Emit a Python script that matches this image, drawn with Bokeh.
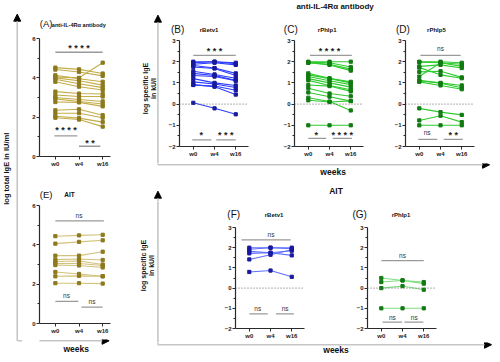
import numpy as np
from bokeh.plotting import figure
from bokeh.layouts import row, column
from bokeh.models import Range1d, FixedTicker, Arrow, NormalHead, Span
from bokeh.core.properties import value
from bokeh.embed import file_html
from bokeh.resources import INLINE

# ---------------- data ----------------
weeks = ["w0", "w4", "w16"]
week_pos = [0, 1, 2]

# (A) anti-IL-4Ra antibody, log total IgE
A_w0 = [4.52, 4.42, 4.05, 4.13, 4.00, 3.93, 3.80, 3.30, 3.13, 3.00, 2.93, 2.77, 2.35, 2.20, 2.05, 1.97]
A_w4 = [4.43, 4.30, 4.00, 3.95, 3.85, 3.70, 3.55, 3.20, 3.05, 2.90, 2.80, 2.75, 2.40, 2.20, 1.95, 1.88]
A_w16 = [4.22, 4.10, 4.77, 3.80, 3.63, 3.50, 3.38, 3.18, 3.05, 2.80, 2.67, 2.55, 2.10, 1.97, 1.75, 1.52]
# (B) rBetv1
B_w0 = [2.00, 1.95, 1.88, 1.82, 1.75, 1.55, 1.45, 1.35, 1.20, 1.05, 0.90, 0.92, 0.06]
B_w4 = [2.00, 2.00, 1.95, 1.70, 1.68, 1.40, 1.35, 1.30, 1.00, 0.95, 0.85, 0.82, -0.20]
B_w16 = [1.95, 1.90, 1.85, 1.45, 1.35, 1.22, 1.12, 1.10, 0.88, 0.78, 0.65, 0.45, -0.48]
# (C) rPhlp1
C_w0 = [2.00, 1.97, 1.95, 1.95, 1.45, 1.38, 1.30, 1.20, 1.12, 0.90, 0.75, 0.55, 0.30, 0.18, -1.00]
C_w4 = [2.00, 1.95, 1.88, 1.85, 1.22, 1.20, 1.10, 1.00, 0.88, 0.85, 0.50, 0.35, 0.12, 0.10, -1.00]
C_w16 = [2.00, 1.75, 1.65, 1.58, 1.05, 1.00, 0.92, 0.80, 0.68, 0.60, 0.37, 0.14, -0.30, 0.15, -1.00]
# (D) rPhlp5
D_w0 = [2.00, 1.98, 1.30, 1.78, 1.72, 1.52, 1.12, 1.10, 1.05, -0.20, -0.77, -1.00]
D_w4 = [2.00, 1.95, 1.95, 1.85, 1.38, 1.55, 1.00, 0.98, 0.88, -0.38, -0.55, -1.00]
D_w16 = [1.95, 1.88, 1.78, 1.70, 1.22, 1.26, 0.88, 0.77, 0.70, -0.51, -0.85, -1.00]
# (E) AIT, log total IgE
E_w0 = [4.44, 4.06, 3.45, 3.25, 3.15, 3.05, 2.97, 2.62, 2.40, 2.05]
E_w4 = [4.48, 4.15, 3.45, 3.28, 3.18, 3.05, 2.95, 2.52, 2.42, 2.05]
E_w16 = [4.51, 4.23, 3.65, 3.23, 3.00, 2.95, 2.85, 2.40, 2.40, 2.03]
# (F) AIT rBetv1
F_w0 = [2.00, 1.92, 1.82, 1.72, 1.42, 0.80]
F_w4 = [2.00, 2.00, 1.75, 1.75, 1.65, 0.87]
F_w16 = [2.00, 1.95, 1.85, 1.62, 1.90, 0.56]
# (G) AIT rPhlp1
G_w0 = [0.50, 0.30, 0.00, -1.00]
G_w4 = [0.38, 0.38, 0.10, -1.00]
G_w16 = [0.22, 0.30, -0.08, -1.00]

# significance annotations: bar from x0 to x1 at level y, label at (tx, ty)
A_sig_x0 = [0.0, -0.04, 1.0]; A_sig_x1 = [2.0, 0.93, 1.9]; A_sig_y = [5.3, 1.05, 0.52]
A_sig_tx = [1.0, 0.45, 1.46]; A_sig_ty = [5.62, 1.45, 0.82]; A_sig_txt = ["* * * *", "* * * *", "* *"]
B_sig_x0 = [0.0, -0.05, 1.08]; B_sig_x1 = [2.0, 0.85, 2.0]; B_sig_y = [2.3, -1.69, -1.69]
B_sig_tx = [1.0, 0.37, 1.53]; B_sig_ty = [2.6, -1.35, -1.35]; B_sig_txt = ["* * *", "*", "* * *"]
C_sig_x0 = [0.08, 0.0, 1.15]; C_sig_x1 = [2.05, 0.84, 2.05]; C_sig_y = [2.3, -1.62, -1.62]
C_sig_tx = [1.0, 0.37, 1.6]; C_sig_ty = [2.6, -1.32, -1.32]; C_sig_txt = ["* * * *", "*", "* * * *"]
D_sig_x0 = [0.05, -0.05, 1.15]; D_sig_x1 = [1.95, 0.85, 2.05]; D_sig_y = [2.3, -1.66, -1.66]
D_sig_tx = [1.0, 0.37, 1.6]; D_sig_ty = [2.62, -1.32, -1.32]; D_sig_txt = ["ns", "ns", "* *"]
E_sig_x0 = [0.0, 0.0, 1.1]; E_sig_x1 = [2.05, 0.97, 2.0]; E_sig_y = [5.22, 1.13, 0.83]
E_sig_tx = [1.0, 0.47, 1.55]; E_sig_ty = [5.5, 1.41, 1.13]; E_sig_txt = ["ns", "ns", "ns"]
F_sig_x0 = [-0.37, 0.0, 1.26]; F_sig_x1 = [1.95, 0.87, 2.1]; F_sig_y = [2.39, -1.28, -1.28]
F_sig_tx = [1.02, 0.4, 1.69]; F_sig_ty = [2.64, -1.01, -1.01]; F_sig_txt = ["ns", "ns", "ns"]
G_sig_x0 = [0.0, 0.06, 1.09]; G_sig_x1 = [2.0, 0.98, 1.98]; G_sig_y = [1.36, -1.68, -1.68]
G_sig_tx = [1.0, 0.52, 1.55]; G_sig_ty = [1.63, -1.44, -1.44]; G_sig_txt = ["ns", "ns", "ns"]

# ---------------- helpers ----------------
KX = 492 / 500.0
KY = 354 / 362.0
FONT = "Liberation Sans"
AXC = "#2a2a2a"
FRAME_C = "#c6c6c6"


def deco(x0, x1, y0, y1):
    """Decoration figure covering layout pixels [x0,x1]x[y0,y1]; data units = reference pixels (y negated)."""
    p = figure(width=x1 - x0, height=y1 - y0,
               x_range=Range1d(x0 / KX, x1 / KX), y_range=Range1d(-y1 / KY, -y0 / KY),
               output_backend="svg", toolbar_location=None,
               x_axis_location=None, y_axis_location=None, min_border=0)
    p.outline_line_color = None
    p.grid.visible = False
    p.xgrid.visible = False
    p.ygrid.visible = False
    p.background_fill_color = "white"
    p.border_fill_color = "white"
    return p


def dtext(p, rx, ry, text, size, bold=False, angle=0.0, color="#111111"):
    p.text(x=[rx], y=[-ry], text=[text], text_align="center", text_baseline="middle",
           text_font=value(FONT), text_font_size=size,
           text_font_style="bold" if bold else "normal", text_color=color, angle=angle)


def dline(p, x0, y0, x1, y1):
    p.segment(x0=[x0], y0=[-y0], x1=[x1], y1=[-y1], line_color=FRAME_C, line_width=1.6)


def darrow(p, x0, y0, x1, y1):
    p.add_layout(Arrow(x_start=x0, y_start=-y0, x_end=x1, y_end=-y1, start=None,
                       end=NormalHead(size=7, fill_color="black", line_color="black", line_width=1),
                       line_color=FRAME_C, line_width=1.6))


def panel(x0, x1, y0, y1, frame_ref, xr, yr, yticks, yminor):
    fl, ft, fr, fb = frame_ref
    bl = int(round(fl * KX)) - x0
    br = x1 - int(round(fr * KX))
    bt = int(round(ft * KY)) - y0
    bb = y1 - int(round(fb * KY))
    p = figure(width=x1 - x0, height=y1 - y0, x_range=Range1d(*xr), y_range=Range1d(*yr),
               output_backend="svg", toolbar_location=None,
               min_border_left=bl, min_border_right=br, min_border_top=bt, min_border_bottom=bb)
    p.outline_line_color = None
    p.xgrid.visible = False
    p.ygrid.visible = False
    p.background_fill_color = "white"
    p.border_fill_color = "white"
    p.xaxis.ticker = FixedTicker(ticks=week_pos, minor_ticks=[])
    p.xaxis.major_label_overrides = {k: v for k, v in zip(week_pos, weeks)}
    p.yaxis.ticker = FixedTicker(ticks=yticks, minor_ticks=yminor)
    for ax in (p.xaxis[0], p.yaxis[0]):
        ax.axis_line_color = AXC
        ax.axis_line_width = 1.2
        ax.major_tick_line_color = AXC
        ax.minor_tick_line_color = AXC
        ax.major_tick_out = 3
        ax.major_tick_in = 0
        ax.minor_tick_out = 2
        ax.minor_tick_in = 0
        ax.major_label_text_font = FONT
        ax.major_label_text_font_size = "6px"
        ax.major_label_text_font_style = "bold"
        ax.major_label_text_color = "#222222"
        ax.major_label_standoff = 1
    return p


def draw_series(p, w0, w4, w16, line_color, marker_color):
    xs = [week_pos for _ in w0]
    ys = [[a, b, c] for a, b, c in zip(w0, w4, w16)]
    p.multi_line(xs, ys, line_color=line_color, line_width=1.1)
    p.scatter(np.repeat([week_pos], len(w0), axis=0).ravel(), np.array(ys).ravel(),
              marker="square", size=3.2, color=marker_color)


def draw_sig(p, x0, x1, y, tx, ty, txt):
    p.segment(x0=x0, y0=y, x1=x1, y1=y, line_color="#9a9a9a", line_width=1.3)
    for X_, Y_, T_ in zip(tx, ty, txt):
        if "*" in T_:
            p.text(x=[X_], y=[Y_], text=[T_], text_align="center", text_baseline="middle",
                   text_font=value(FONT), text_font_size="9px", text_font_style="bold",
                   text_color="#222222", y_offset=2.5)
        else:
            p.text(x=[X_], y=[Y_], text=[T_], text_align="center", text_baseline="middle",
                   text_font=value(FONT), text_font_size="6.5px", text_color="#333333")


def zero_line(p):
    p.add_layout(Span(location=0, dimension="width", line_color="#666666",
                      line_width=1, line_dash="1 2"))


GOLD_L, GOLD_M = "#c4ad4a", "#8d7a1f"
GOLD_L2 = "#d3c27c"
BLUE_L, BLUE_M = "#2b3cff", "#1a1a9e"
BLUE_L2 = "#5f70ff"
GREEN_L, GREEN_M = "#2fcb2f", "#127a12"
GREEN_L2 = "#80dd80"

XR_A = (-0.67, 2.33)
XR_B = (-0.65, 2.6)
YT_A, YM_A = [0, 2, 4, 6], [1, 3, 5]
YT_B, YM_B = [-2, -1, 0, 1, 2, 3], [-1.5, -0.5, 0.5, 1.5, 2.5]

# ---------------- left strip ----------------
strip = deco(0, 22, 0, 354)
dtext(strip, 6, 172, "log total IgE in IU/ml", "7.5px", bold=True, angle=np.pi / 2)
darrow(strip, 17, 348, 17, 14)
dline(strip, 17, 348, 24, 348)

# ---------------- left column: A and E ----------------
titleA = deco(22, 128, 0, 32)
dtext(titleA, 32.5, 24, "(A)", "9.5px")
dtext(titleA, 82, 25, "anti-IL-4R\u03b1 antibody", "5.6px", bold=True)

pA = panel(22, 128, 32, 177, (40, 39.3, 112, 159.3), XR_A, (0, 6), YT_A, YM_A)
draw_sig(pA, A_sig_x0, A_sig_x1, A_sig_y, A_sig_tx, A_sig_ty, A_sig_txt)
draw_series(pA, A_w0, A_w4, A_w16, GOLD_L, GOLD_M)

titleE = deco(22, 128, 177, 200)
dtext(titleE, 32.5, 198, "(E)", "9.5px")
dtext(titleE, 68, 198, "AIT", "6.5px", bold=True)

pE = panel(22, 128, 200, 339, (40, 209.3, 112, 330), XR_A, (0, 6), YT_A, YM_A)
draw_sig(pE, E_sig_x0, E_sig_x1, E_sig_y, E_sig_tx, E_sig_ty, E_sig_txt)
draw_series(pE, E_w0, E_w4, E_w16, GOLD_L2, GOLD_M)

bottomE = deco(22, 128, 339, 354)
darrow(bottomE, 18, 348, 128, 348)
dtext(bottomE, 78, 356, "weeks", "8.5px", bold=True)

left_col = column(titleA, pA, titleE, pE, bottomE)

# ---------------- right top: B, C, D ----------------
header = deco(128, 492, 0, 14)
dtext(header, 340, 6.5, "anti-IL-4R\u03b1 antibody", "8px", bold=True)

decoRTL = deco(128, 164, 14, 163)
dtext(decoRTL, 147.5, 90, "log specific IgE", "7px", bold=True, angle=np.pi / 2)
dtext(decoRTL, 155, 90, "in kU/l", "7px", bold=True, angle=np.pi / 2)
darrow(decoRTL, 160, 172, 160, 15)

titlesRT = deco(164, 492, 14, 35)
dtext(titlesRT, 180, 30, "(B)", "10px")
dtext(titlesRT, 212, 30, "rBetv1", "6px", bold=True)
dtext(titlesRT, 295, 30, "(C)", "10px")
dtext(titlesRT, 332, 30, "rPhlp1", "6px", bold=True)
dtext(titlesRT, 409, 30, "(D)", "10px")
dtext(titlesRT, 443, 30, "rPhlp5", "6px", bold=True)

pB = panel(164, 258, 35, 163, (182, 40.7, 252, 149), XR_B, (-2, 3), YT_B, YM_B)
zero_line(pB)
draw_sig(pB, B_sig_x0, B_sig_x1, B_sig_y, B_sig_tx, B_sig_ty, B_sig_txt)
draw_series(pB, B_w0, B_w4, B_w16, BLUE_L, BLUE_M)

pC = panel(258, 379, 35, 163, (299, 40.7, 369, 149), XR_B, (-2, 3), YT_B, YM_B)
zero_line(pC)
draw_sig(pC, C_sig_x0, C_sig_x1, C_sig_y, C_sig_tx, C_sig_ty, C_sig_txt)
draw_series(pC, C_w0, C_w4, C_w16, GREEN_L, GREEN_M)

pD = panel(379, 492, 35, 163, (412, 40.7, 482, 149), XR_B, (-2, 3), YT_B, YM_B)
zero_line(pD)
draw_sig(pD, D_sig_x0, D_sig_x1, D_sig_y, D_sig_tx, D_sig_ty, D_sig_txt)
draw_series(pD, D_w0, D_w4, D_w16, GREEN_L, GREEN_M)

bottomRT = deco(128, 492, 163, 177)
dline(bottomRT, 160, 160, 160, 168)
darrow(bottomRT, 160, 168, 497, 168)
dtext(bottomRT, 338, 175, "weeks", "8.5px", bold=True)

right_top = column(header,
                   row(decoRTL, column(titlesRT, row(pB, pC, pD))),
                   bottomRT)

# ---------------- right bottom: F, G ----------------
hdrRB = deco(128, 492, 177, 201)
dtext(hdrRB, 341, 195, "AIT", "8.5px", bold=True)
darrow(hdrRB, 160, 215, 160, 195)

decoRBL = deco(128, 164, 201, 342)
dtext(decoRBL, 145.5, 271, "log specific IgE", "7px", bold=True, angle=np.pi / 2)
dtext(decoRBL, 153, 271, "in kU/l", "7px", bold=True, angle=np.pi / 2)
dline(decoRBL, 160, 200, 160, 360)

titlesRB = deco(164, 492, 201, 222)
dtext(titlesRB, 237, 219, "(F)", "10px")
dtext(titlesRB, 278, 219, "rBetv1", "6px", bold=True)
dtext(titlesRB, 365, 219, "(G)", "10px")
dtext(titlesRB, 407, 219, "rPhlp1", "6px", bold=True)

pF = panel(164, 315, 222, 342, (239, 231.7, 309, 335.7), XR_B, (-2, 3), YT_B, YM_B)
zero_line(pF)
draw_sig(pF, F_sig_x0, F_sig_x1, F_sig_y, F_sig_tx, F_sig_ty, F_sig_txt)
draw_series(pF, F_w0, F_w4, F_w16, BLUE_L2, BLUE_M)

pG = panel(315, 492, 222, 342, (373, 231.7, 443, 335.7), XR_B, (-2, 3), YT_B, YM_B)
zero_line(pG)
draw_sig(pG, G_sig_x0, G_sig_x1, G_sig_y, G_sig_tx, G_sig_ty, G_sig_txt)
draw_series(pG, G_w0, G_w4, G_w16, GREEN_L2, GREEN_M)

bottomRB = deco(128, 492, 342, 354)
dline(bottomRB, 160, 340, 160, 352)
darrow(bottomRB, 160, 352, 499, 352)
dtext(bottomRB, 341, 357.5, "weeks", "8.5px", bold=True)

right_bottom = column(hdrRB,
                      row(decoRBL, column(titlesRB, row(pF, pG))),
                      bottomRB)

right_col = column(right_top, right_bottom)
root = row(strip, left_col, right_col)

open("out.html", "w").write(file_html(root, INLINE))
